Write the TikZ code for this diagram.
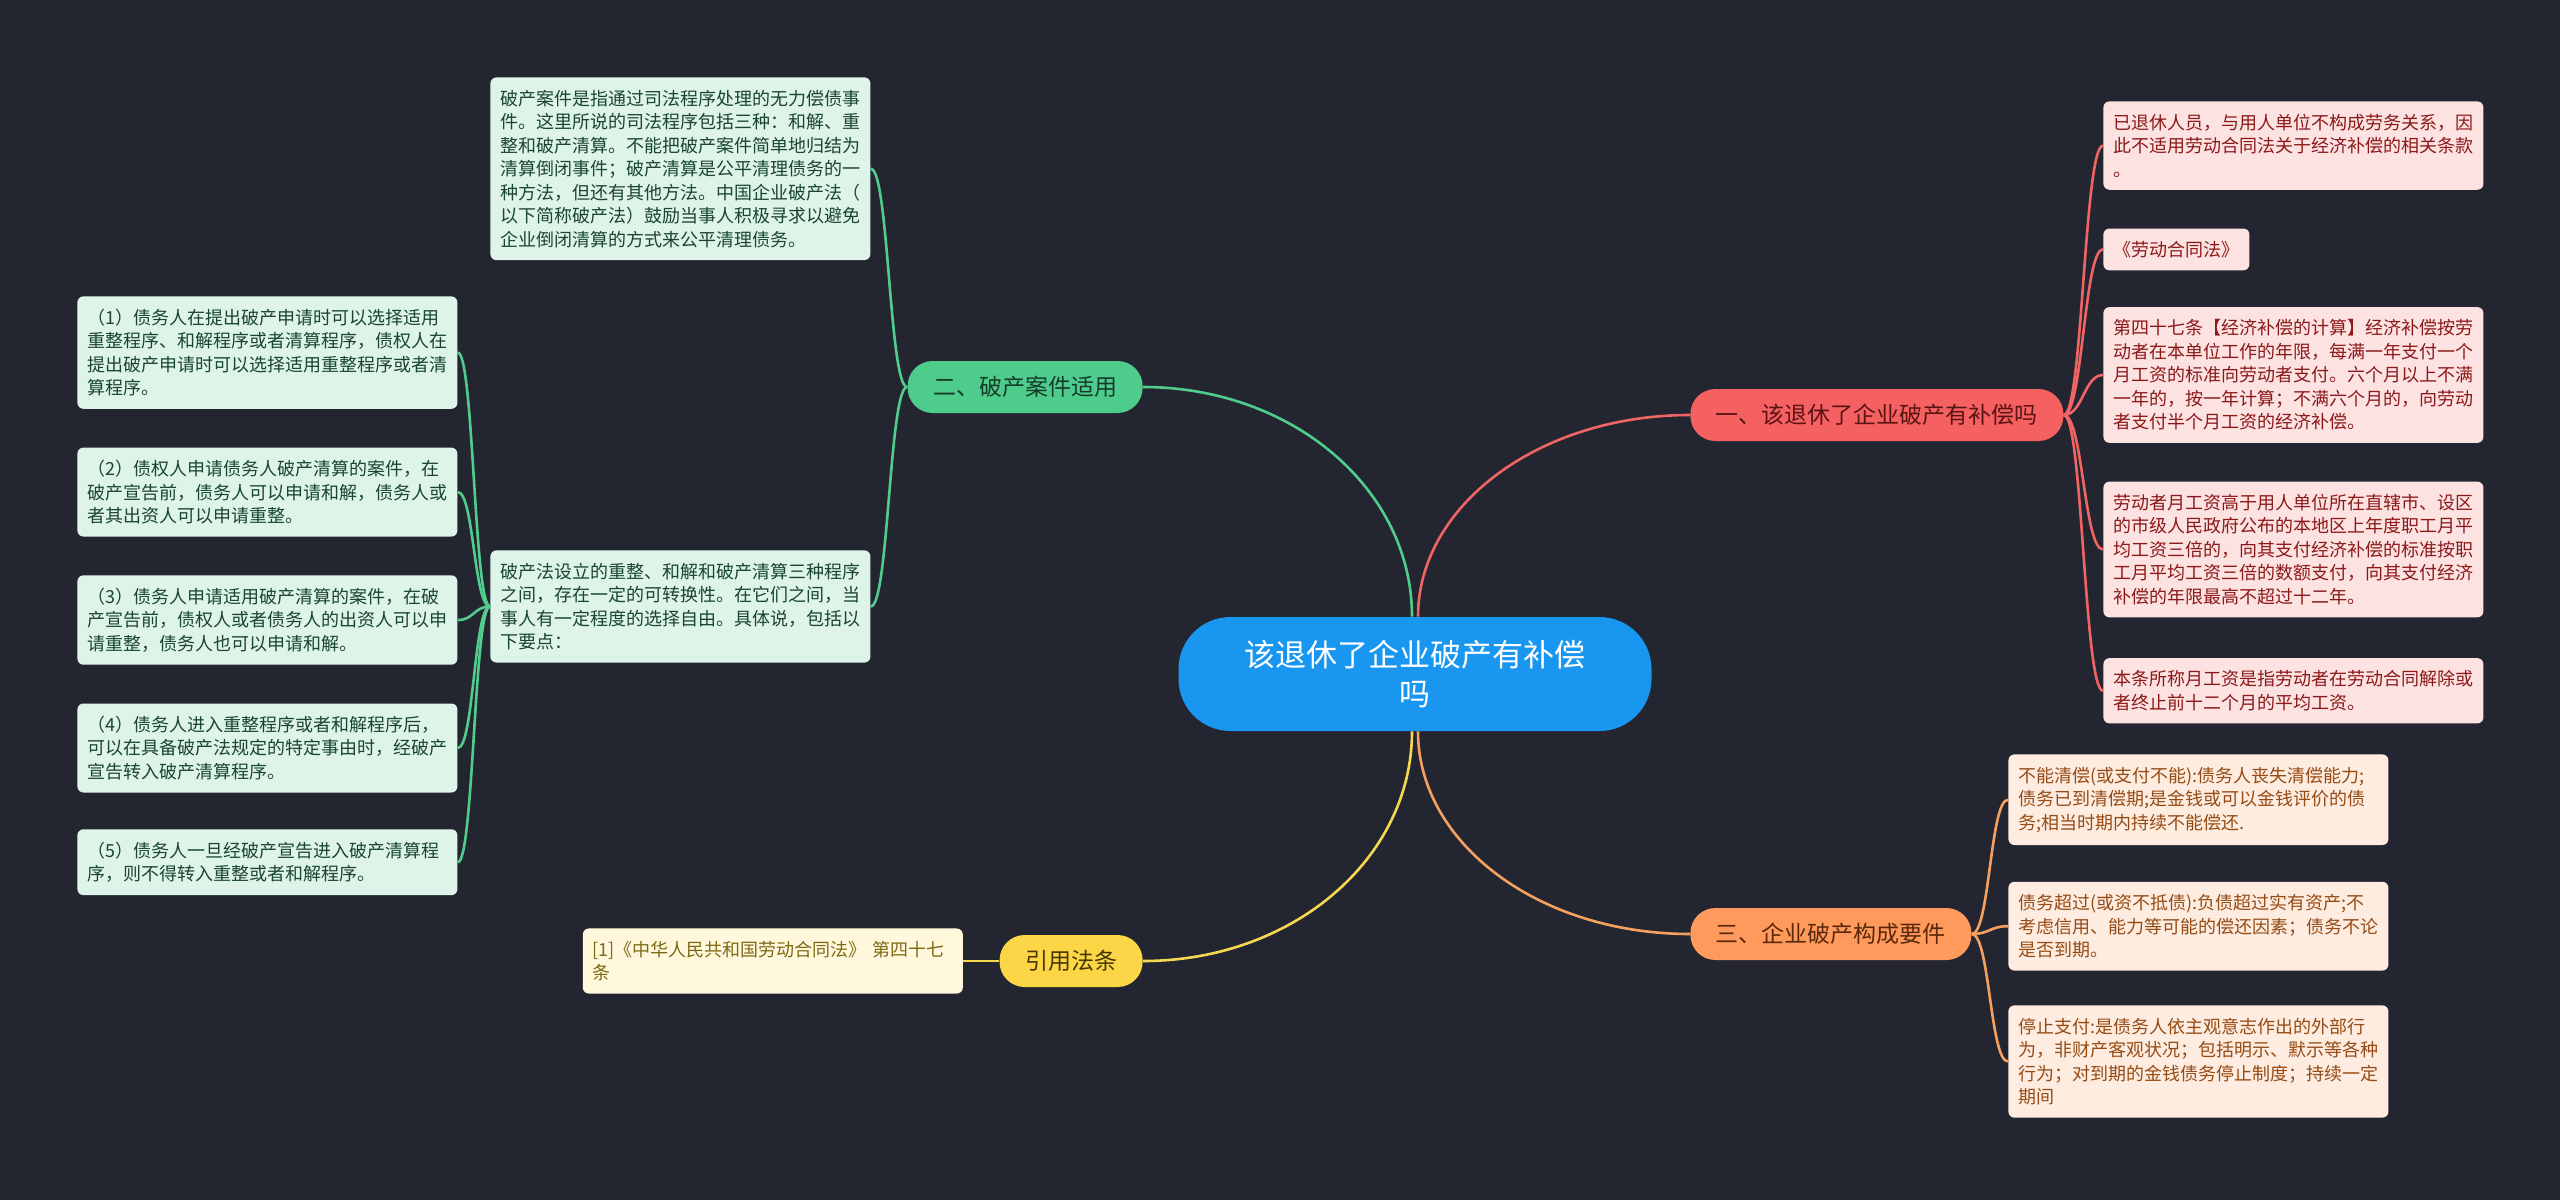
\documentclass[tikz,border=0pt]{standalone}
\usepackage{fontspec}
\setmainfont{Noto Sans CJK SC}
\usepackage{xcolor}
\usetikzlibrary{positioning}

\definecolor{bgdark}{RGB}{35,38,49}
\definecolor{rootblue}{RGB}{25,150,240}
\definecolor{redfill}{RGB}{245,96,96}
\definecolor{redtext}{RGB}{90,20,20}
\definecolor{redleaf}{RGB}{253,226,226}
\definecolor{redleaftext}{RGB}{140,25,25}
\definecolor{redwire}{RGB}{240,100,100}
\definecolor{greenfill}{RGB}{78,204,140}
\definecolor{greentext}{RGB}{20,60,40}
\definecolor{greenleaf}{RGB}{222,244,233}
\definecolor{greenleaftext}{RGB}{25,70,45}
\definecolor{greenwire}{RGB}{80,205,140}
\definecolor{orangefill}{RGB}{255,154,92}
\definecolor{orangetext}{RGB}{90,40,10}
\definecolor{orangeleaf}{RGB}{254,236,224}
\definecolor{orangeleaftext}{RGB}{150,75,20}
\definecolor{orangewire}{RGB}{245,160,95}
\definecolor{yellowfill}{RGB}{253,214,72}
\definecolor{yellowtext}{RGB}{70,55,0}
\definecolor{yellowleaf}{RGB}{255,248,220}
\definecolor{yellowleaftext}{RGB}{125,105,20}
\definecolor{yellowwire}{RGB}{245,215,80}

\begin{document}
\begin{tikzpicture}[
    x=0.5pt, y=-0.5pt,
    node distance=19pt,
    root/.style={fill=rootblue, text=white, rounded corners=26pt, align=center, minimum width=236.5pt, minimum height=57pt, font=\fontsize{15.5}{19.5}\selectfont},
    branch/.style={rounded corners=12.5pt, minimum height=26pt, inner xsep=12.75pt, inner ysep=0pt, font=\fontsize{11.5}{14}\selectfont},
    leaf/.style={rounded corners=3pt, text width=180pt, inner xsep=5pt, inner ysep=6.25pt, align=left, font=\fontsize{9}{11.75}\selectfont},
    wire/.style={line width=1.3pt}
]
\fill[bgdark] (0,0) rectangle (2560,1200);
\useasboundingbox (0,0) rectangle (2560,1200);

\node[root] (root) at (1415,674) {该退休了企业破产有补偿\\吗};

\node[branch, fill=redfill, text=redtext, anchor=west] (law) at (1690,415) {一、该退休了企业破产有补偿吗};
\node[branch, fill=greenfill, text=greentext, anchor=east] (scope) at (1143,387) {二、破产案件适用};
\node[branch, fill=orangefill, text=orangetext, anchor=west] (terms) at (1690,934) {三、企业破产构成要件};
\node[branch, fill=yellowfill, text=yellowtext, anchor=east] (cite) at (1143,961) {引用法条};

% 一
\node[leaf, fill=redleaf, text=redleaftext, anchor=north west] (law1) at (2103,101) {已退休人员，与用人单位不构成劳务关系，因\\此不适用劳动合同法关于经济补偿的相关条款\\。};
\node[leaf, fill=redleaf, text=redleaftext, text width={}, below=19pt of law1.south west, anchor=north west] (law2) {《劳动合同法》};
\node[leaf, fill=redleaf, text=redleaftext, below=18pt of law2.south west, anchor=north west] (law3) {第四十七条【经济补偿的计算】经济补偿按劳\\动者在本单位工作的年限，每满一年支付一个\\月工资的标准向劳动者支付。六个月以上不满\\一年的，按一年计算；不满六个月的，向劳动\\者支付半个月工资的经济补偿。};
\node[leaf, fill=redleaf, text=redleaftext, below=of law3.south west, anchor=north west] (law4) {劳动者月工资高于用人单位所在直辖市、设区\\的市级人民政府公布的本地区上年度职工月平\\均工资三倍的，向其支付经济补偿的标准按职\\工月平均工资三倍的数额支付，向其支付经济\\补偿的年限最高不超过十二年。};
\node[leaf, fill=redleaf, text=redleaftext, below=20pt of law4.south west, anchor=north west] (law5) {本条所称月工资是指劳动者在劳动合同解除或\\者终止前十二个月的平均工资。};

% 二
\node[leaf, fill=greenleaf, text=greenleaftext, anchor=north west] (note1) at (490,77) {破产案件是指通过司法程序处理的无力偿债事\\件。这里所说的司法程序包括三种：和解、重\\整和破产清算。不能把破产案件简单地归结为\\清算倒闭事件；破产清算是公平清理债务的一\\种方法，但还有其他方法。中国企业破产法（\\以下简称破产法）鼓励当事人积极寻求以避免\\企业倒闭清算的方式来公平清理债务。};
\node[leaf, fill=greenleaf, text=greenleaftext, anchor=north west] (note2) at (490,550) {破产法设立的重整、和解和破产清算三种程序\\之间，存在一定的可转换性。在它们之间，当\\事人有一定程度的选择自由。具体说，包括以\\下要点：};
\node[leaf, fill=greenleaf, text=greenleaftext, anchor=north west] (pt1) at (77,296) {（1）债务人在提出破产申请时可以选择适用\\重整程序、和解程序或者清算程序，债权人在\\提出破产申请时可以选择适用重整程序或者清\\算程序。};
\node[leaf, fill=greenleaf, text=greenleaftext, below=of pt1] (pt2) {（2）债权人申请债务人破产清算的案件，在\\破产宣告前，债务人可以申请和解，债务人或\\者其出资人可以申请重整。};
\node[leaf, fill=greenleaf, text=greenleaftext, below=of pt2] (pt3) {（3）债务人申请适用破产清算的案件，在破\\产宣告前，债权人或者债务人的出资人可以申\\请重整，债务人也可以申请和解。};
\node[leaf, fill=greenleaf, text=greenleaftext, below=of pt3] (pt4) {（4）债务人进入重整程序或者和解程序后，\\可以在具备破产法规定的特定事由时，经破产\\宣告转入破产清算程序。};
\node[leaf, fill=greenleaf, text=greenleaftext, below=18pt of pt4] (pt5) {（5）债务人一旦经破产宣告进入破产清算程\\序，则不得转入重整或者和解程序。};

% 三
\node[leaf, fill=orangeleaf, text=orangeleaftext, anchor=north west] (cond1) at (2008,754) {不能清偿(或支付不能):债务人丧失清偿能力;\\债务已到清偿期;是金钱或可以金钱评价的债\\务;相当时期内持续不能偿还.};
\node[leaf, fill=orangeleaf, text=orangeleaftext, below=18pt of cond1] (cond2) {债务超过(或资不抵债):负债超过实有资产;不\\考虑信用、能力等可能的偿还因素；债务不论\\是否到期。};
\node[leaf, fill=orangeleaf, text=orangeleaftext, below=17pt of cond2] (cond3) {停止支付:是债务人依主观意志作出的外部行\\为，非财产客观状况；包括明示、默示等各种\\行为；对到期的金钱债务停止制度；持续一定\\期间};

% 引用
\node[leaf, fill=yellowleaf, text=yellowleaftext, left=18pt of cite] (ref1) {[1]《中华人民共和国劳动合同法》 第四十七\\条};

% root to branches
\draw[wire, greenwire] ([xshift=-1.5pt]root.north) .. controls +(0,-127) and +(150,0) .. (scope.east);
\draw[wire, redwire] ([xshift=1.5pt]root.north) .. controls +(0,-111) and +(-151,0) .. (law.west);
\draw[wire, yellowwire] ([xshift=-1.5pt]root.south) .. controls +(0,127) and +(150,0) .. (cite.east);
\draw[wire, orangewire] ([xshift=1.5pt]root.south) .. controls +(0,112) and +(-151,0) .. (terms.west);

% branches to leaves
\draw[wire, redwire] (law.east) .. controls +(19,0) and +(-19,0) .. (law1.west);
\draw[wire, redwire] (law.east) .. controls +(19,0) and +(-19,0) .. (law2.west);
\draw[wire, redwire] (law.east) .. controls +(19,0) and +(-19,0) .. (law3.west);
\draw[wire, redwire] (law.east) .. controls +(19,0) and +(-19,0) .. (law4.west);
\draw[wire, redwire] (law.east) .. controls +(19,0) and +(-19,0) .. (law5.west);

\draw[wire, greenwire] (scope.west) .. controls +(-18,0) and +(18,0) .. (note1.east);
\draw[wire, greenwire] (scope.west) .. controls +(-18,0) and +(18,0) .. (note2.east);
\draw[wire, greenwire] (note2.west) .. controls +(-16,0) and +(16,0) .. (pt1.east);
\draw[wire, greenwire] (note2.west) .. controls +(-16,0) and +(16,0) .. (pt2.east);
\draw[wire, greenwire] (note2.west) .. controls +(-16,0) and +(16,0) .. (pt3.east);
\draw[wire, greenwire] (note2.west) .. controls +(-16,0) and +(16,0) .. (pt4.east);
\draw[wire, greenwire] (note2.west) .. controls +(-16,0) and +(16,0) .. (pt5.east);

\draw[wire, orangewire] (terms.east) .. controls +(18,0) and +(-18,0) .. (cond1.west);
\draw[wire, orangewire] (terms.east) .. controls +(18,0) and +(-18,0) .. (cond2.west);
\draw[wire, orangewire] (terms.east) .. controls +(18,0) and +(-18,0) .. (cond3.west);

\draw[wire, yellowwire] (cite.west) -- (ref1.east);
\end{tikzpicture}
\end{document}
